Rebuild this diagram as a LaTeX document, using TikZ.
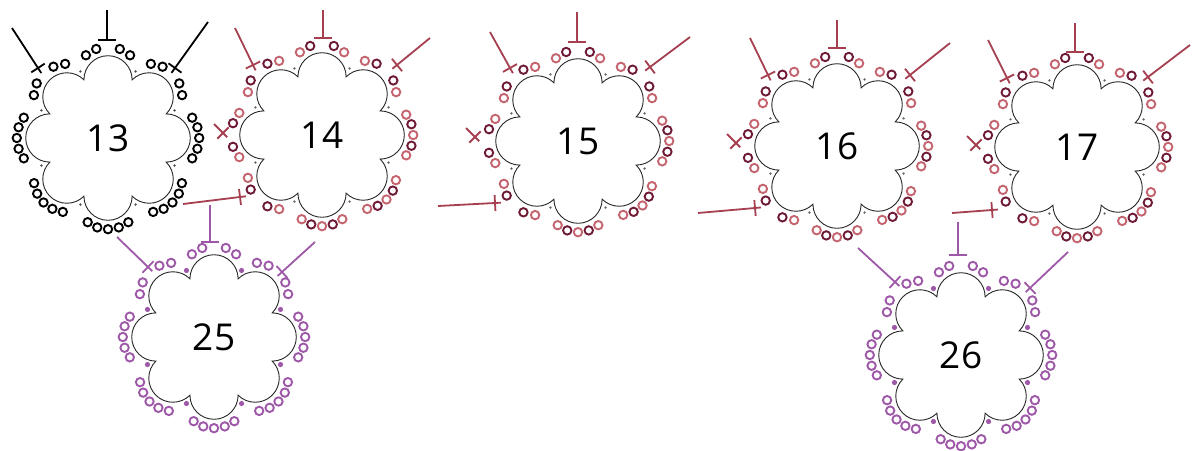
\documentclass[tikz,border=0pt]{standalone}
\usepackage{fontspec}
\setmainfont{Open Sans}
\usetikzlibrary{calc}
\definecolor{chdark}{HTML}{6E1A35}
\definecolor{chlight}{HTML}{C4646E}
\definecolor{joinred}{HTML}{A63F50}
\definecolor{lilac}{HTML}{9E58A8}
\tikzset{
  petal/.style={draw=black!85, line width=0.9pt},
  chst/.style={line width=1.9pt},
  joinline/.style={line width=1.8pt},
  num/.style={font=\fontsize{37}{40}\selectfont, inner sep=0pt},
}
% motif: x, y, number, dark, light, plain lobes, split lobes, dot radius, dot colour
\newcommand{\motif}[9]{%
  \begin{scope}[shift={(#1,#2)}]
    \draw[petal] (-22.5:63pt) \foreach \a in {0,45,...,315}{arc[start angle=\a-90, end angle=\a+90, radius=24.1pt]} -- cycle;
    \foreach \a in {#6}
      \foreach \o/\c in {-38/#5,-19/#4,0/#5,19/#4,38/#5}
        \draw[chst, draw=\c] ([shift={({\a+(\o)}:33pt)}]\a:58.2pt) circle (4.2pt);
    \foreach \a in {#7}
      \foreach \o/\c in {-42/#5,-21/#4,21/#4,42/#5}
        \draw[chst, draw=\c] ([shift={({\a+(\o)}:33pt)}]\a:58.2pt) circle (4.2pt);
    \foreach \a in {22.5,67.5,...,337.5}
      \fill[#9] (\a:72pt) circle (#8);
    \node[num] (m#3) at (0,0) {#3};
  \end{scope}}
% join marks: colour, centre, free end
\newcommand{\Tj}[3]{%
  \draw[joinline, #1] (#3) -- (#2) ($(#2)!9pt!90:(#3)$) -- ($(#2)!9pt!-90:(#3)$);}
\newcommand{\Xj}[3]{%
  \draw[joinline, #1] (#3) -- ($(#2)!-6pt!(#3)$) ($(#2)!8pt!90:(#3)$) -- ($(#2)!8pt!-90:(#3)$);}
\begin{document}
\begin{tikzpicture}[x=1pt, y=1pt]
\useasboundingbox (0,0) rectangle (1193,450);

\motif{108}{312}{13}{black}{black}{180,0,-45,-90,-135}{90,45,135}{1.3pt}{black!70}
\motif{322}{315}{14}{chdark}{chlight}{0,-45,-90}{90,45,135,180,-135}{1.3pt}{black!60}
\motif{578}{309}{15}{chdark}{chlight}{0,-45,-90}{90,45,135,180,-135}{1.3pt}{black!60}
\motif{837}{304}{16}{chdark}{chlight}{0,-45,-90}{90,45,135,180,-135}{1.3pt}{black!60}
\motif{1077}{303}{17}{chdark}{chlight}{0,-45,-90}{90,45,135,180,-135}{1.3pt}{black!60}
\motif{214}{113}{25}{lilac}{lilac}{180,0,-45,-90,-135}{90,45,135}{2.6pt}{lilac}
\motif{961}{95}{26}{lilac}{lilac}{180,0,-45,-90,-135}{90,45,135}{2.6pt}{lilac}

% joins
\Tj{black}{107,410}{107,440}
\Xj{black}{175,382}{208,428}
\Xj{black}{38,382}{12,422}

\Tj{joinred}{323,412}{323,440}
\Xj{joinred}{397,385}{430,412}
\Xj{joinred}{253,385}{235,422}
\Xj{joinred}{223,317}{214,326}
\Xj{joinred}{240,253}{183,246}

\Tj{joinred}{577,408}{577,438}
\Xj{joinred}{650,383}{690,413}
\Xj{joinred}{510,382}{490,418}
\Xj{joinred}{475,313}{466,322}
\Xj{joinred}{495,247}{438,244}

\Tj{joinred}{837,402}{837,430}
\Xj{joinred}{910,375}{950,407}
\Xj{joinred}{768,375}{750,412}
\Xj{joinred}{736,307}{727,316}
\Xj{joinred}{755,242}{698,237}

\Tj{joinred}{1075,398}{1075,427}
\Xj{joinred}{1148,373}{1190,405}
\Xj{joinred}{1007,372}{988,410}
\Xj{joinred}{976,305}{967,314}
\Xj{joinred}{992,240}{952,237}

\Tj{lilac}{210,208}{210,245}
\Xj{lilac}{148,183}{117,213}
\Xj{lilac}{282,178}{315,208}

\Tj{lilac}{958,195}{958,228}
\Xj{lilac}{895,168}{858,202}
\Xj{lilac}{1030,162}{1068,198}
\end{tikzpicture}
\end{document}
